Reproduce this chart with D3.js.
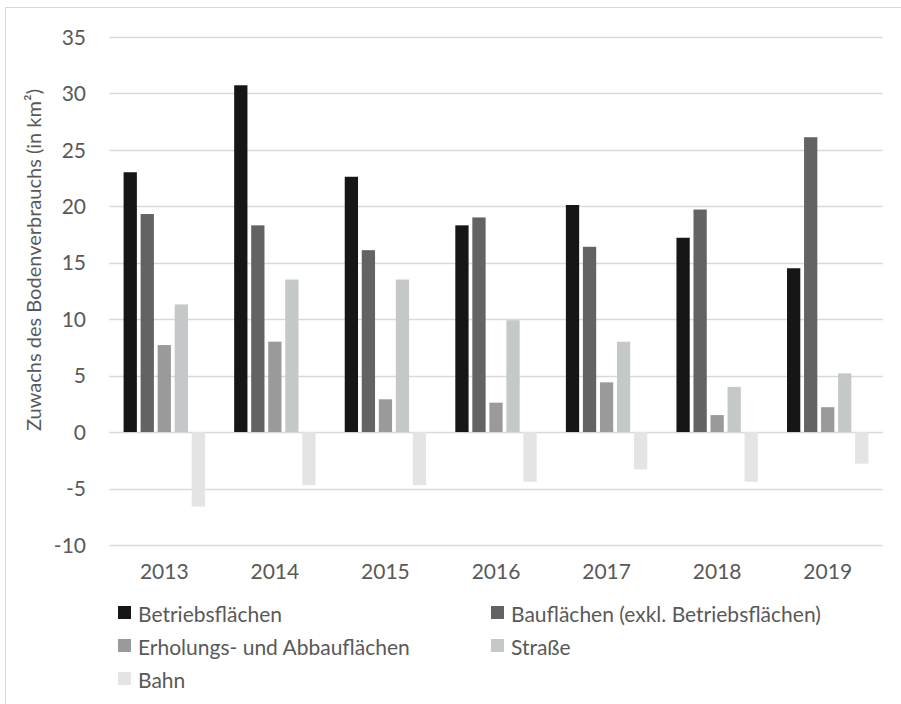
<!DOCTYPE html>
<html><head><meta charset="utf-8">
<script src="https://cdn.jsdelivr.net/npm/d3@7"></script>
<style>
html,body{margin:0;padding:0;background:#fff;}
svg{display:block;font-family:Lato,"Open Sans",sans-serif;}
</style></head>
<body>
<svg id="chart" width="901" height="704"></svg>
<script>
const years = ["2013","2014","2015","2016","2017","2018","2019"];
const seriesNames = ["Betriebsflächen","Bauflächen (exkl. Betriebsflächen)","Erholungs- und Abbauflächen","Straße","Bahn"];
const betriebsflaechen = [23.0, 30.7, 22.6, 18.3, 20.1, 17.2, 14.5];
const bauflaechen = [19.3, 18.3, 16.1, 19.0, 16.4, 19.7, 26.1];
const erholungAbbau = [7.7, 8.0, 2.9, 2.6, 4.4, 1.5, 2.2];
const strasse = [11.3, 13.5, 13.5, 9.9, 8.0, 4.0, 5.2];
const bahn = [-6.6, -4.7, -4.7, -4.4, -3.3, -4.4, -2.8];
const yTicks = [-10,-5,0,5,10,15,20,25,30,35];
const colors = ["#161616","#636363","#9a9a9a","#c5c8c8","#e4e4e4"];
const seriesValues = [betriebsflaechen, bauflaechen, erholungAbbau, strasse, bahn];

(function(){
const svg = d3.select("#chart");
const textColor = "#595959";
const fam = "Lato, 'Open Sans', sans-serif";

// outer border
svg.append("rect").attr("x",5.5).attr("y",7.5).attr("width",920).attr("height",720)
  .attr("fill","none").attr("stroke","#d9d9d9").attr("stroke-width",1);

const pl = 109, pr = 883, pt = 36.7, pb = 545;
const y = d3.scaleLinear().domain([-10,35]).range([pb, pt]);
const x0 = d3.scaleBand().domain(years).range([pl, pr]).paddingInner(0.264).paddingOuter(0.132);
const x1 = d3.scaleBand().domain(d3.range(5)).range([0, x0.bandwidth()]).paddingInner(0.22);

// gridlines
svg.append("g").selectAll("line").data(yTicks).join("line")
  .attr("x1", pl).attr("x2", pr)
  .attr("y1", d=>Math.round(y(d))+0.5).attr("y2", d=>Math.round(y(d))+0.5)
  .attr("stroke","#d9d9d9").attr("stroke-width",1.3);

// y axis labels
const yAxis = d3.axisLeft(y).tickValues(yTicks).tickSize(0).tickPadding(0).tickFormat(d=>String(d));
const gy = svg.append("g").attr("transform",`translate(86,0)`).call(yAxis);
gy.select(".domain").remove();
gy.selectAll("text").attr("fill",textColor).attr("font-size","21px").attr("font-family",fam).attr("dy","0.35em");

// x axis labels
const xAxis = d3.axisBottom(x0).tickSize(0).tickPadding(0);
const gx = svg.append("g").attr("transform",`translate(0,564)`).call(xAxis);
gx.select(".domain").remove();
gx.selectAll("text").attr("fill",textColor).attr("font-size","21px").attr("font-family",fam);

// bars
const data = [];
years.forEach((yr,i)=>seriesValues.forEach((arr,s)=>data.push({yr, s, v:arr[i]})));
svg.append("g").selectAll("rect").data(data).join("rect")
  .attr("x", d=>x0(d.yr)+x1(d.s))
  .attr("width", x1.bandwidth())
  .attr("y", d=>y(Math.max(0,d.v)))
  .attr("height", d=>Math.abs(y(d.v)-y(0)))
  .attr("fill", d=>colors[d.s]);

// y title
svg.append("text")
  .attr("transform","translate(33,260) rotate(-90)")
  .attr("text-anchor","middle").attr("dominant-baseline","central")
  .attr("fill",textColor).attr("font-size","20px").attr("font-family",fam)
  .text("Zuwachs des Bodenverbrauchs (in km²)");

// legend
const legendPos = [[118,613],[491,613],[118,646],[491,646],[118,679]];
const lg = svg.append("g").selectAll("g").data(seriesNames).join("g")
  .attr("transform",(d,i)=>`translate(${legendPos[i][0]},${legendPos[i][1]})`);
lg.append("rect").attr("x",0).attr("y",-7).attr("width",13).attr("height",13).attr("fill",(d,i)=>colors[i]);
lg.append("text").attr("x",20).attr("y",0).attr("dominant-baseline","central")
  .attr("fill",textColor).attr("font-size","21px").attr("font-family",fam).text(d=>d);
})();
</script>
</body></html>
